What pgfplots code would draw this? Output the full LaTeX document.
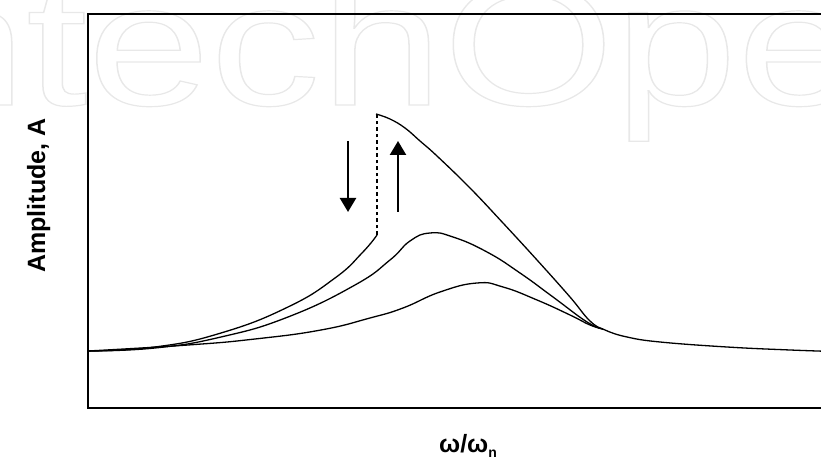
\documentclass[border=0pt]{standalone}
\usepackage{pgfplots}
\pgfplotsset{compat=1.18}
\usepackage{fontspec}
\setmainfont{Liberation Sans}
\usetikzlibrary{arrows.meta}
\begin{document}
\begin{tikzpicture}[x=1pt,y=1pt]
\useasboundingbox (0,0) rectangle (821,457);
\clip (0,0) rectangle (821,457);
% watermark
\node[anchor=base west, inner sep=0] at (-158,352) {\scalebox{1.26}[1]{\fontsize{175}{175}\selectfont\special{pdf:literal direct 1 Tr 1.2 w 0.91 G}IntechOpen\special{pdf:literal direct 0 Tr 0 G}}};
\begin{axis}[at={(88,49)}, anchor=south west, scale only axis,
  width=760pt, height=394pt, xmin=88, xmax=848, ymin=0, ymax=394,
  xtick=\empty, ytick=\empty, axis line style={line width=1.8pt},
  every axis plot/.style={black, line width=1.3pt}]
% large-amplitude branch (lower part up to jump)
\addplot[smooth, tension=0.8] coordinates {(88,57) (155,61) (221,75) (288,101) (335,130) (362,155) (377,173)};
% jump (dashed)
\addplot[line width=1.3pt, dash pattern=on 3.5pt off 3pt] coordinates {(377,173) (377,294)};
% upper branch and tail
\addplot[smooth, tension=0.7] coordinates {(376,294) (390,289) (405,280) (420,267) (437,252) (470,220) (503,185) (537,148) (570,111) (590,87) (605,78) (627,71) (660,66) (727,61) (790,58) (848,56)};
% middle curve
\addplot[smooth, tension=0.8] coordinates {(88,57) (155,60) (221,71) (288,91) (355,123) (390,148) (410,167) (430,175) (453,171) (487,156) (520,135) (553,111) (587,86) (603,79)};
% lowest curve
\addplot[smooth, tension=0.8] coordinates {(88,57) (188,63) (255,69) (321,78) (370,90) (403,100) (440,116) (477,125) (503,121) (537,108) (570,93) (590,83) (603,79)};
\draw[line width=2.3pt, -{Triangle[width=16pt,length=14pt]}] (axis cs:348,267) -- (axis cs:348,196);
\draw[line width=2.3pt, -{Triangle[width=16pt,length=14pt]}] (axis cs:398,196) -- (axis cs:398,267);
\end{axis}
\node[rotate=90, anchor=base, font=\bfseries\fontsize{25}{30}\selectfont] at (45,261.5) {Amplitude, A};
\node[anchor=base, font=\bfseries\fontsize{25}{30}\selectfont] at (468,4) {ω/ω\raisebox{-5pt}{\fontsize{14}{14}\selectfont n}};
\end{tikzpicture}
\end{document}
